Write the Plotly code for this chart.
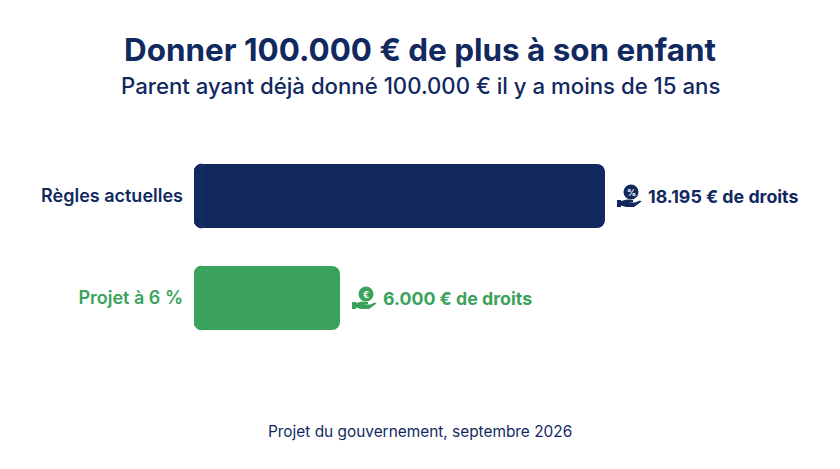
import plotly.graph_objects as go

# Textes et valeurs
title = 'Donner 100.000 € de plus à son enfant'
subtitle = 'Parent ayant déjà donné 100.000 € il y a moins de 15 ans'
footer = 'Projet du gouvernement, septembre 2026'

categories = ['Règles actuelles', 'Projet à 6 %']
droits = ['18.195 € de droits', '6.000 € de droits']
# longueur des barres telle que dessinée (la verte dépasse un peu 6000 à l'échelle)
bar_lengths = [18195, 6235]
icon_signs = ['%', '€']

NAVY = '#12295F'
GREEN = '#3BA25B'
colors = [NAVY, GREEN]
FONT = 'Inter'

# petit bout à gauche de zéro : plotly n'arrondit que l'extrémité d'une pile
STUB = 354

# la page ajoute 8px de marge autour de la figure
WIDTH = 832
HEIGHT = 461
CENTER = 412

fig = go.Figure()

fig.add_trace(go.Bar(
    x=bar_lengths,
    y=categories,
    orientation='h',
    marker=dict(color=colors, line=dict(width=0)),
    hoverinfo='skip'
))
# le trait de même couleur cache la jointure avec la barre principale
fig.add_trace(go.Bar(
    x=[-STUB, -STUB],
    y=categories,
    orientation='h',
    marker=dict(color=colors, line=dict(width=1, color=colors)),
    hoverinfo='skip'
))

# Icône main + pièce, en pixels à partir de la fin de la barre
hand = ('M 12 -4 L 16 -4 L 16 -5 L 22 -3.5 L 28 -4 L 28 -6 L 23 -6.5 L 30 -6.5 '
        'L 35 -4.5 L 36.5 -5.5 L 29 -11 L 21 -11 L 16 -9.5 L 16 -11 L 12 -11 Z')

for cat, length, color, sign, label in zip(categories, bar_lengths, colors, icon_signs, droits):
    fig.add_shape(type='path', path=hand, xref='x', yref='y',
                  xsizemode='pixel', ysizemode='pixel', xanchor=length, yanchor=cat,
                  fillcolor=color, line=dict(width=0))
    fig.add_shape(type='circle', xref='x', yref='y',
                  xsizemode='pixel', ysizemode='pixel', xanchor=length, yanchor=cat,
                  x0=18.5, x1=33.5, y0=-3.5, y1=11.5,
                  fillcolor=color, line=dict(width=0))
    fig.add_annotation(x=length, y=cat, xref='x', yref='y', text=sign,
                       showarrow=False, xanchor='center', yanchor='middle', xshift=26, yshift=4,
                       font=dict(family=FONT, size=9, color='white', weight=700))
    fig.add_annotation(x=length, y=cat, xref='x', yref='y', text=label,
                       showarrow=False, xanchor='left', xshift=41,
                       font=dict(family=FONT, size=17.8, color=color, weight=700))

fig.add_annotation(text=subtitle, xref='paper', yref='paper',
                   x=(CENTER - 186) / (WIDTH - 186), y=(341 - 78) / 204,
                   xanchor='center', yanchor='middle', showarrow=False,
                   font=dict(family=FONT, size=22.2, color=NAVY, weight=500))
fig.add_annotation(text=footer, xref='paper', yref='paper',
                   x=(CENTER - 186) / (WIDTH - 186), y=(341 - 423) / 204,
                   xanchor='center', yanchor='middle', showarrow=False,
                   font=dict(family=FONT, size=15.4, color=NAVY))

fig.update_layout(
    width=WIDTH,
    height=HEIGHT,
    margin=dict(l=186, r=0, t=137, b=120),
    paper_bgcolor='white',
    plot_bgcolor='white',
    showlegend=False,
    barmode='relative',
    bargap=0.373,
    barcornerradius=8,
    title=dict(text=title, x=CENTER / WIDTH, xref='container', xanchor='center',
               y=1 - 42 / HEIGHT, yanchor='middle',
               font=dict(family=FONT, size=31.4, color=NAVY, weight=700)),
    xaxis=dict(range=[-STUB, 28801], visible=False, fixedrange=True),
    yaxis=dict(
        autorange='reversed',
        tickmode='array',
        tickvals=categories,
        ticktext=[f'<span style="color:{c}">{t}</span>' for t, c in zip(categories, colors)],
        tickfont=dict(family=FONT, size=18, weight=600),
        ticks='',
        ticklabelstandoff=10,
        showline=False,
        showgrid=False,
        zeroline=False,
        fixedrange=True
    )
)

fig.write_html('out.html')
